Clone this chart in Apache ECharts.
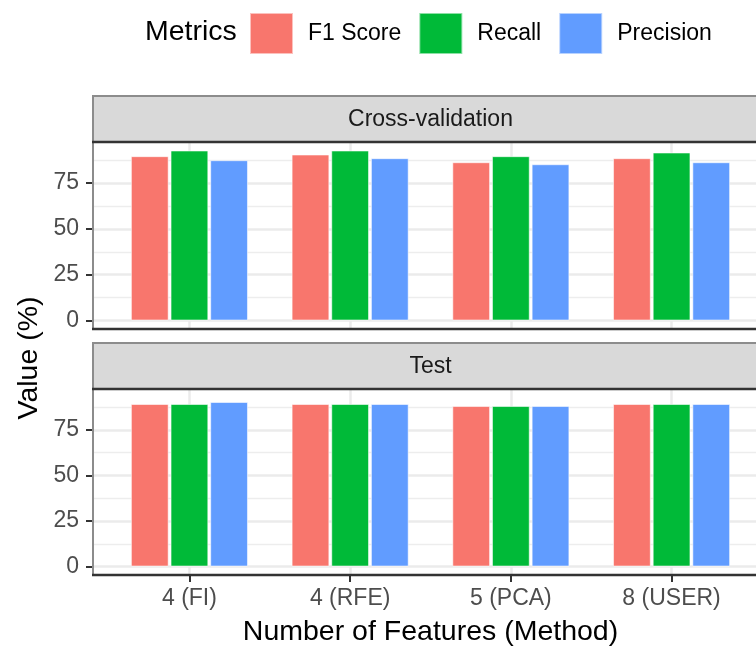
<!DOCTYPE html>
<html>
<head>
<meta charset="utf-8">
<script src="https://cdn.jsdelivr.net/npm/echarts@6/dist/echarts.min.js"></script>
<style>
  html, body { margin: 0; padding: 0; background: #fff; }
  #chart { width: 756px; height: 646px; }
</style>
</head>
<body>
<div id="chart"></div>
<script>
// ---- data ----
const categories = ['4 (FI)', '4 (RFE)', '5 (PCA)', '8 (USER)'];
const metrics = ['F1 Score', 'Recall', 'Precision'];
const panels = ['Cross-validation', 'Test'];

const cvF1        = [89.7, 90.6, 86.4, 88.6];
const cvRecall    = [92.8, 92.8, 89.7, 91.7];
const cvPrecision = [87.5, 88.6, 85.3, 86.4];

const testF1        = [89.2, 89.2, 88.1, 89.2];
const testRecall    = [89.2, 89.2, 88.1, 89.2];
const testPrecision = [90.3, 89.2, 88.1, 89.2];

const yTicks = [0, 25, 50, 75];
const yMinorTicks = [12.5, 37.5, 62.5, 87.5];

// ---- styling / layout ----
const colors = ['#F8766D', '#00BA38', '#619CFF'];
const FONT = '"Liberation Sans", Arial, Helvetica, sans-serif';
const PANEL_LEFT = 93, PANEL_W = 675;
const layout = [
  { stripTop: 96,  top: 142, height: 187 },
  { stripTop: 343, top: 389, height: 186 }
];

const panelValues = [
  [cvF1, cvRecall, cvPrecision],
  [testF1, testRecall, testPrecision]
];

// shared y range with 5% padding on both ends, discrete x range padded by 0.6
const vMax = Math.max(...panelValues.flat(2));
const yLo = -0.05 * vMax, yHi = 1.05 * vMax;
const xPositions = categories.map((c, k) => k + 1);
const xLo = 0.4, xHi = categories.length + 0.6;

const gridLine = { color: '#EBEBEB', width: 2.5 };
const minorLine = { color: '#EDEDED', width: 1.3 };
const tickLine = { color: '#333333', width: 2 };

const grid = layout.map(p => ({
  left: PANEL_LEFT, top: p.top, width: PANEL_W, height: p.height,
  outerBoundsMode: 'none', containLabel: false
}));

const xAxis = layout.map((p, i) => ({
  type: 'value', gridIndex: i, min: xLo, max: xHi,
  axisLine: { show: false, onZero: false },
  axisTick: { show: i === 1, customValues: xPositions, length: 7, lineStyle: tickLine },
  axisLabel: {
    show: i === 1, customValues: xPositions, margin: 12,
    formatter: v => categories[Math.round(v) - 1],
    fontSize: 23, color: '#4D4D4D', fontFamily: FONT
  },
  splitLine: { show: true, lineStyle: gridLine }
}));

const yAxis = [];
layout.forEach((p, i) => {
  yAxis.push({
    type: 'value', gridIndex: i, min: yLo, max: yHi, position: 'left',
    axisLine: { show: false, onZero: false },
    axisTick: { show: true, customValues: yTicks, length: 7, lineStyle: tickLine },
    axisLabel: { customValues: yTicks, margin: 14, fontSize: 23, color: '#4D4D4D', fontFamily: FONT },
    splitLine: { show: true, lineStyle: gridLine }
  });
  yAxis.push({
    type: 'value', gridIndex: i, min: yLo, max: yHi, position: 'left',
    axisLine: { show: false, onZero: false },
    axisTick: { show: false, customValues: yMinorTicks },
    axisLabel: { show: false },
    splitLine: { show: true, lineStyle: minorLine }
  });
});

const series = [];
panelValues.forEach((group, i) => {
  group.forEach((vals, m) => {
    series.push({
      type: 'bar', name: metrics[m], silent: true,
      xAxisIndex: i, yAxisIndex: 2 * i,
      data: vals.map((v, k) => [xPositions[k], v]),
      barWidth: '23.5%', barGap: '5%',
      itemStyle: { color: colors[m], borderColor: 'rgba(255,255,255,0.55)', borderWidth: 1 }
    });
  });
});

// facet strips, panel frames and titles
const graphic = [];
layout.forEach((p, i) => {
  graphic.push({
    type: 'rect', z: 100, silent: true,
    shape: { x: PANEL_LEFT, y: p.stripTop, width: PANEL_W, height: p.top - p.stripTop },
    style: { fill: '#D9D9D9', stroke: '#8C8C8C', lineWidth: 2 }
  });
  graphic.push({
    type: 'text', z: 101, silent: true,
    x: PANEL_LEFT + PANEL_W / 2, y: p.stripTop + (p.top - p.stripTop) / 2 + 1,
    style: { text: panels[i], fontSize: 23, fontFamily: FONT, fill: '#1A1A1A', align: 'center', verticalAlign: 'middle' }
  });
  graphic.push({
    type: 'rect', z: 100, silent: true,
    shape: { x: PANEL_LEFT, y: p.top, width: PANEL_W, height: p.height },
    style: { fill: null, stroke: '#8C8C8C', lineWidth: 2 }
  });
  [p.top, p.top + p.height].forEach(y => {
    graphic.push({
      type: 'line', z: 102, silent: true,
      shape: { x1: PANEL_LEFT - 1, y1: y, x2: PANEL_LEFT + PANEL_W + 1, y2: y },
      style: { stroke: '#333333', lineWidth: 2.5 }
    });
  });
});
graphic.push({
  type: 'text', z: 101, silent: true, x: 145, y: 32,
  style: { text: 'Metrics', fontSize: 28.5, fontFamily: FONT, fill: '#000', align: 'left', verticalAlign: 'middle' }
});
graphic.push({
  type: 'text', z: 101, silent: true, x: 29, y: 358, rotation: Math.PI / 2,
  style: { text: 'Value (%)', fontSize: 28.5, fontFamily: FONT, fill: '#000', align: 'center', verticalAlign: 'middle' }
});
graphic.push({
  type: 'text', z: 101, silent: true, x: PANEL_LEFT + PANEL_W / 2, y: 632,
  style: { text: 'Number of Features (Method)', fontSize: 28.5, fontFamily: FONT, fill: '#000', align: 'center', verticalAlign: 'middle' }
});

const chart = echarts.init(document.getElementById('chart'), null, { renderer: 'canvas' });
chart.setOption({
  animation: false,
  backgroundColor: '#ffffff',
  legend: {
    data: metrics, left: 249, top: 12, padding: 0,
    itemWidth: 43, itemHeight: 41, itemGap: 17, icon: 'rect',
    selectedMode: false,
    textStyle: { fontSize: 23, color: '#000', fontFamily: FONT, padding: [0, 0, 0, 10] }
  },
  grid, xAxis, yAxis, series, graphic
});
</script>
</body>
</html>
